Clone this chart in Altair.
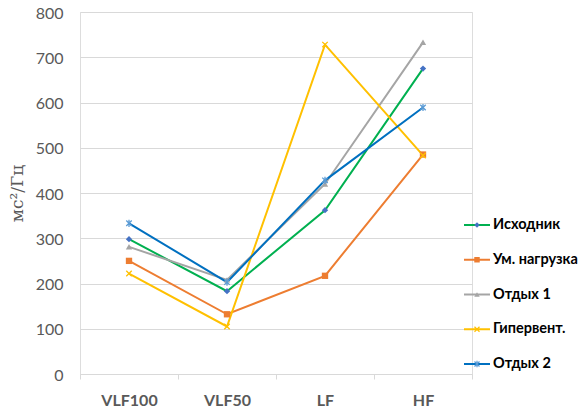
import altair as alt
import pandas as pd

categories = ["VLF100", "VLF50", "LF", "HF"]
series = ["Исходник", "Ум. нагрузка", "Отдых 1", "Гипервент.", "Отдых 2"]
v_ishodnik = [298, 183, 362, 675]
v_um = [250, 132, 217, 485]
v_otdyh1 = [281, 208, 420, 733]
v_giper = [222, 105, 728, 483]
v_otdyh2 = [333, 203, 428, 589]
y_ticks = [0, 100, 200, 300, 400, 500, 600, 700, 800]

line_colors = ["#00B050", "#ED7D31", "#A5A5A5", "#FFC000", "#0070C0"]
marker_colors = ["#4472C4", "#ED7D31", "#A5A5A5", "#FFC000", "#5B9BD5"]
shapes = ["diamond", "square", "triangle-up",
          "M-1,-1L1,1M-1,1L1,-1",
          "M-1,-1L1,1M-1,1L1,-1M0,-1.3L0,1.3"]
filled_series = ["Исходник", "Ум. нагрузка", "Отдых 1"]

values = [v_ishodnik, v_um, v_otdyh1, v_giper, v_otdyh2]
rows = []
for i, (s, vals) in enumerate(zip(series, values)):
    for c, v in zip(categories, vals):
        rows.append({"series": s, "cat": c, "value": v, "order": i})
df = pd.DataFrame(rows)
leg = pd.DataFrame({"series": series})

FONT = "Lato"
GRAY = "#595959"

x_enc = alt.X("cat:N", sort=categories,
              scale=alt.Scale(type="band", paddingInner=0, paddingOuter=0),
              axis=alt.Axis(title=None, labelFont=FONT, labelFontSize=16, labelFontWeight="bold",
                            labelColor=GRAY, domainColor="#D9D9D9", tickColor="#D9D9D9",
                            tickSize=5, tickBand="extent", labelPadding=13, grid=False,
                            labelAngle=0))
y_enc = alt.Y("value:Q",
              scale=alt.Scale(domain=[0, 800], nice=False),
              axis=alt.Axis(title="мс²/Гц", values=y_ticks, labelFont=FONT, labelFontSize=16,
                            labelColor=GRAY, titleFont="DejaVu Serif", titleFontSize=17,
                            titleFontWeight="normal", titleColor=GRAY, titlePadding=9,
                            domain=False, ticks=False, gridColor="#D9D9D9", labelPadding=17,
                            labelOffset=1))

color_scale = alt.Scale(domain=series, range=marker_colors)
shape_scale = alt.Scale(domain=series, range=shapes)
stroke_scale = alt.Scale(domain=series, range=line_colors)

lines = alt.Chart(df).mark_line(strokeWidth=2).encode(
    x=x_enc, y=y_enc,
    stroke=alt.Stroke("series:N", scale=stroke_scale, legend=None),
    order=alt.Order("order:Q"),
)

pts_filled = alt.Chart(df).transform_filter(
    alt.FieldOneOfPredicate(field="series", oneOf=filled_series)
).mark_point(filled=True, size=40, opacity=1).encode(
    x=x_enc, y=y_enc,
    color=alt.Color("series:N", scale=color_scale, legend=None),
    shape=alt.Shape("series:N", scale=shape_scale, legend=None),
)

pts_open = alt.Chart(df).transform_filter(
    {"not": alt.FieldOneOfPredicate(field="series", oneOf=filled_series)}
).mark_point(filled=False, size=30, strokeWidth=1.3, opacity=1).encode(
    x=x_enc, y=y_enc,
    color=alt.Color("series:N", scale=color_scale, legend=None),
    shape=alt.Shape("series:N", scale=shape_scale, legend=None),
)

main_layer = alt.layer(lines, pts_filled, pts_open)

leg_y = alt.Y("series:N", sort=series,
              scale=alt.Scale(type="point", domain=series, range=[213, 352], padding=0),
              axis=None)

leg_rule = alt.Chart(leg).mark_rule(strokeWidth=2).encode(
    x=alt.value(384), x2=alt.value(410), y=leg_y,
    stroke=alt.Stroke("series:N", scale=stroke_scale, legend=None),
)
leg_pts_f = alt.Chart(leg).transform_filter(
    alt.FieldOneOfPredicate(field="series", oneOf=filled_series)
).mark_point(filled=True, size=30, opacity=1).encode(
    x=alt.value(397), y=leg_y,
    color=alt.Color("series:N", scale=color_scale, legend=None),
    shape=alt.Shape("series:N", scale=shape_scale, legend=None),
)
leg_pts_o = alt.Chart(leg).transform_filter(
    {"not": alt.FieldOneOfPredicate(field="series", oneOf=filled_series)}
).mark_point(filled=False, size=25, strokeWidth=1.2, opacity=1).encode(
    x=alt.value(397), y=leg_y,
    color=alt.Color("series:N", scale=color_scale, legend=None),
    shape=alt.Shape("series:N", scale=shape_scale, legend=None),
)
leg_text = alt.Chart(leg).mark_text(align="left", baseline="middle", font=FONT, fontSize=14.5,
                                    fontWeight="bold", color="#000000").encode(
    x=alt.value(413), y=leg_y, text="series:N",
)

legend_layer = alt.layer(leg_rule, leg_pts_f, leg_pts_o, leg_text)

chart = alt.layer(main_layer, legend_layer).resolve_scale(
    y="independent"
).properties(
    width=392, height=362,
    autosize=alt.AutoSizeParams(type="none"),
    padding={"left": 72, "top": 4, "right": 106, "bottom": 37},
).configure_view(stroke=None).configure(background="white")

chart.save("out.html", embed_options={"renderer": "svg", "actions": False})
